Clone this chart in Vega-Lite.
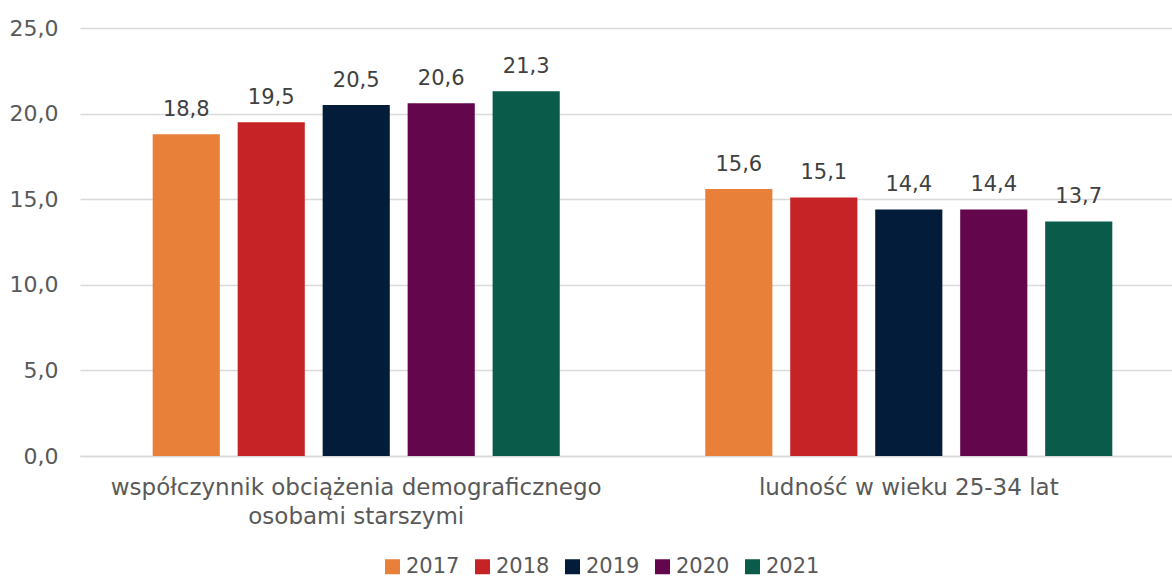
{
  "$schema": "https://vega.github.io/schema/vega-lite/v6.json",
  "width": 1105,
  "height": 428,
  "autosize": {"type": "none"},
  "padding": {"left": 80, "top": 28, "right": 0, "bottom": 123},
  "background": "white",
  "config": {
    "locale": {"number": {"decimal": ",", "thousands": " ", "grouping": [3], "currency": ["", " zł"]}},
    "font": "DejaVu Sans",
    "view": {"stroke": null}
  },
  "data": {
    "values": [
      {"cat": "A", "year": "2017", "value": 18.8},
      {"cat": "A", "year": "2018", "value": 19.5},
      {"cat": "A", "year": "2019", "value": 20.5},
      {"cat": "A", "year": "2020", "value": 20.6},
      {"cat": "A", "year": "2021", "value": 21.3},
      {"cat": "B", "year": "2017", "value": 15.6},
      {"cat": "B", "year": "2018", "value": 15.1},
      {"cat": "B", "year": "2019", "value": 14.4},
      {"cat": "B", "year": "2020", "value": 14.4},
      {"cat": "B", "year": "2021", "value": 13.7}
    ]
  },
  "encoding": {
    "x": {
      "field": "cat", "type": "nominal", "title": null,
      "scale": {"paddingInner": 0.231, "paddingOuter": 0.1154},
      "axis": {
        "labelAngle": 0, "domain": true, "domainColor": "#d9d9d9", "domainWidth": 1.5, "ticks": false,
        "labelFontSize": 23, "labelColor": "#595959", "labelPadding": 20, "labelLineHeight": 29,
        "labelBaseline": "top", "labelLimit": 0,
        "labelExpr": "datum.value == 'A' ? ['współczynnik obciążenia demograficznego', 'osobami starszymi'] : 'ludność w wieku 25-34 lat'"
      }
    },
    "xOffset": {"field": "year", "type": "nominal", "scale": {"paddingInner": 0.21, "paddingOuter": 0.105}},
    "y": {
      "field": "value", "type": "quantitative", "title": null,
      "scale": {"domain": [0, 25]},
      "axis": {
        "values": [0, 5, 10, 15, 20, 25], "format": ".1f", "domain": false, "ticks": false,
        "labelFontSize": 22, "labelColor": "#595959", "labelPadding": 22,
        "gridColor": "#d9d9d9", "gridWidth": 1.5
      }
    }
  },
  "layer": [
    {
      "mark": {"type": "bar"},
      "encoding": {
        "color": {
          "field": "year", "type": "nominal", "title": null,
          "scale": {"domain": ["2017", "2018", "2019", "2020", "2021"], "range": ["#E8803A", "#C62327", "#021C3A", "#64064C", "#0A5B4A"]},
          "legend": {
            "orient": "none", "legendX": 302, "legendY": 528, "direction": "horizontal", "symbolType": "square", "symbolSize": 225,
            "symbolStrokeWidth": 0, "labelFontSize": 21, "labelColor": "#595959", "columnPadding": 12, "labelOffset": 3
          }
        }
      }
    },
    {
      "mark": {"type": "text", "baseline": "bottom", "dy": -14, "fontSize": 21, "color": "#404040"},
      "encoding": {"text": {"field": "value", "type": "quantitative", "format": ".1f"}}
    }
  ]
}
